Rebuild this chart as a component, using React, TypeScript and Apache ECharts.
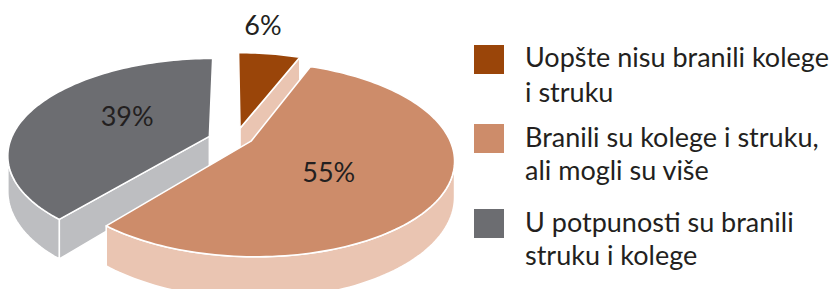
import React, { useEffect, useRef } from "react";
import * as echarts from "echarts";

const categories = [
  "Uopšte nisu branili kolege i struku",
  "Branili su kolege i struku, ali mogli su više",
  "U potpunosti su branili struku i kolege",
];
const legendLines = [
  ["Uopšte nisu branili kolege", "i struku"],
  ["Branili su kolege i struku,", "ali mogli su više"],
  ["U potpunosti su branili", "struku i kolege"],
];
const values = [6, 55, 39];
const valueLabels = ["6%", "55%", "39%"];

const topColors = ["#9A4509", "#CD8C6A", "#6C6D71"];
const sideColors = ["#EAC5B2", "#EAC5B2", "#BDBEC1"];
const textColor = "#231F20";

// pseudo-3D projection parameters (style, not data)
const GEO = { cx: 230.5, cy: 135.5, W: 197, K: 92, u: 0.184, H: 34 };
// explosion offset of each slice, in units of the radius (x right, z away from viewer)
const EXPLODE = [
  [0.049, 0.079],
  [0.103, -0.061],
  [-0.107, -0.01],
];
const LABEL = [
  { r: 1.45, dx: -17, dy: -3 },
  { r: 0.43, dx: 0, dy: 9 },
  { r: 0.47, dx: 2, dy: -7 },
];
const LEGEND = { x: 474, textX: 525, box: 30, boxTops: [45, 124, 209], firstMid: [56, 136, 221], lineGap: [35, 33, 33] };

const total = values.reduce((a, b) => a + b, 0);

function shoelace(pts: number[][]) {
  let s = 0;
  for (let i = 0; i < pts.length; i++) {
    const p = pts[i], q = pts[(i + 1) % pts.length];
    s += p[0] * q[1] - q[0] * p[1];
  }
  return s;
}

function renderItem(params: any, api: any) {
  const i = params.dataIndex;
  const v = api.value(0);
  let before = 0;
  for (let k = 0; k < i; k++) before += values[k];
  const a0 = (before / total) * 2 * Math.PI;
  const a1 = ((before + v) / total) * 2 * Math.PI;
  const m = (a0 + a1) / 2;
  const { cx, cy, W, K, u, H } = GEO;
  const ox = EXPLODE[i][0], oz = EXPLODE[i][1];
  const P = (rx: number, rz: number, top: boolean) => {
    const d = 1 + u * rz;
    return [cx + (W * rx) / d, cy - (K * rz) / d + (top ? 0 : H / d)];
  };
  const rim = (t: number, top: boolean) => P(ox + Math.sin(t), oz + Math.cos(t), top);
  const arc = (s: number, e: number, top: boolean) => {
    const n = Math.max(4, Math.ceil((e - s) / (Math.PI / 120)));
    const out: number[][] = [];
    for (let j = 0; j <= n; j++) out.push(rim(s + ((e - s) * j) / n, top));
    return out;
  };
  const apT = P(ox, oz, true), apB = P(ox, oz, false);
  const base = Math.round((1 - Math.cos(m)) * 10) * 10;
  const stroke = { stroke: "#ffffff", lineWidth: 1.6, lineJoin: "round" };
  const children: any[] = [];

  // radial faces (only those turned toward the viewer)
  const startFace = [apT, rim(a0, true), rim(a0, false), apB];
  const endFace = [apT, apB, rim(a1, false), rim(a1, true)];
  [startFace, endFace].forEach((f) => {
    if (shoelace(f) < -300) {
      children.push({ type: "polygon", z2: base + 1, shape: { points: f }, style: { fill: sideColors[i], ...stroke } });
    }
  });

  // outer wall (front-facing part)
  const A = 1 + u * oz, B = u * ox;
  const R = Math.sqrt(A * A + B * B);
  const delta = Math.atan2(B, A);
  const alpha = Math.acos(Math.max(-1, Math.min(1, -u / R)));
  const lo = Math.max(a0, delta + alpha);
  const hi = Math.min(a1, delta + 2 * Math.PI - alpha);
  if (hi > lo) {
    const topA = arc(lo, hi, true);
    const botA = arc(lo, hi, false).reverse();
    children.push({ type: "polygon", z2: base + 2, shape: { points: topA.concat(botA) }, style: { fill: sideColors[i], ...stroke } });
  }

  // top face
  const topPts = [apT].concat(arc(a0, a1, true));
  children.push({ type: "polygon", z2: base + 3, shape: { points: topPts }, style: { fill: topColors[i], ...stroke } });

  // value label
  const L = LABEL[i];
  const lp = P(ox + L.r * Math.sin(m), oz + L.r * Math.cos(m), true);
  children.push({
    type: "text",
    z2: 500,
    x: lp[0] + L.dx,
    y: lp[1] + L.dy,
    style: {
      text: valueLabels[i],
      fill: textColor,
      fontSize: 27,
      fontFamily: "Lato",
      align: "center",
      verticalAlign: "middle",
    },
  });
  return { type: "group", children };
}

export default function App() {
  const ref = useRef<HTMLDivElement>(null);
  useEffect(() => {
    if (!ref.current) return;
    const chart = echarts.init(ref.current, undefined, { renderer: "svg" });
    const legendGraphics: any[] = [];
    categories.forEach((name, i) => {
      legendGraphics.push({
        type: "rect",
        shape: { x: LEGEND.x, y: LEGEND.boxTops[i], width: LEGEND.box, height: LEGEND.box - 1 },
        style: { fill: topColors[i] },
      });
      legendLines[i].forEach((line, j) => {
        legendGraphics.push({
          type: "text",
          x: LEGEND.textX,
          y: LEGEND.firstMid[i] + j * LEGEND.lineGap[i],
          style: {
            text: line,
            fill: textColor,
            fontSize: 27,
            fontFamily: "Lato",
            align: "left",
            verticalAlign: "middle",
          },
        });
      });
    });
    chart.setOption({
      animation: false,
      series: [
        {
          type: "custom",
          coordinateSystem: "none",
          silent: true,
          renderItem,
          data: values.map((v, i) => ({ name: categories[i], value: [v] })),
        },
      ],
      graphic: legendGraphics,
    });
    return () => chart.dispose();
  }, []);
  return <div ref={ref} style={{ position: "absolute", left: 0, top: 0, width: 840, height: 289 }} />;
}
